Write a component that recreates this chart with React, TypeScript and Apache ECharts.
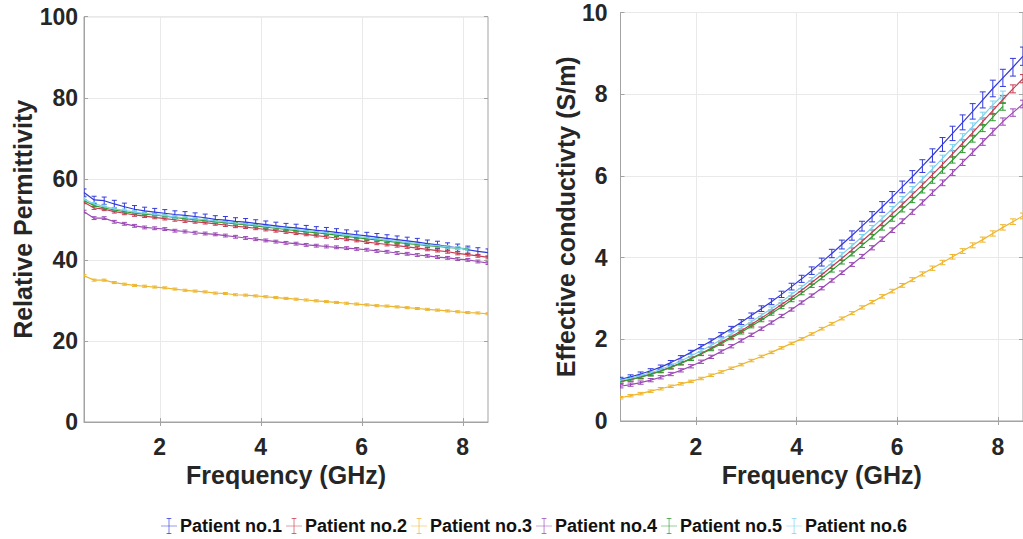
import React, { useEffect, useRef } from 'react';
import * as echarts from 'echarts';

const freq = [0.5, 0.7, 0.9, 1.1, 1.3, 1.5, 1.7, 1.9, 2.1, 2.3, 2.5, 2.7, 2.9, 3.1, 3.3, 3.5, 3.7, 3.9, 4.1, 4.3, 4.5, 4.7, 4.9, 5.1, 5.3, 5.5, 5.7, 5.9, 6.1, 6.3, 6.5, 6.7, 6.9, 7.1, 7.3, 7.5, 7.7, 7.9, 8.1, 8.3, 8.5];

const patients = ['Patient no.1', 'Patient no.2', 'Patient no.3', 'Patient no.4', 'Patient no.5', 'Patient no.6'];
const colors = ['#3239dc', '#c43c50', '#edb62e', '#9b4ab5', '#2f9c32', '#7cd2ee'];

const xTicks = [2, 4, 6, 8];

// Relative permittivity
const eps1 = [56.6, 54.8, 54.6, 53.8, 53.1, 52.5, 52.1, 51.8, 51.5, 51.2, 51.0, 50.7, 50.4, 50.0, 49.8, 49.5, 49.3, 49.0, 48.7, 48.4, 48.1, 47.9, 47.6, 47.3, 47.1, 46.8, 46.5, 46.2, 45.9, 45.6, 45.3, 45.0, 44.7, 44.4, 44.0, 43.7, 43.3, 43.0, 42.5, 42.1, 41.8];
const eps2 = [54.2, 52.8, 52.5, 51.9, 51.5, 51.1, 50.8, 50.5, 50.2, 49.9, 49.6, 49.4, 49.2, 48.9, 48.6, 48.3, 48.1, 47.8, 47.5, 47.2, 46.9, 46.6, 46.3, 46.0, 45.7, 45.4, 45.1, 44.8, 44.4, 44.1, 43.8, 43.5, 43.2, 42.9, 42.6, 42.3, 42.0, 41.6, 41.3, 41.0, 40.6];
const eps3 = [36.1, 35.0, 35.0, 34.4, 34.0, 33.7, 33.5, 33.3, 33.1, 32.8, 32.5, 32.3, 32.1, 31.8, 31.7, 31.4, 31.3, 31.1, 30.9, 30.7, 30.5, 30.3, 30.1, 29.9, 29.7, 29.5, 29.3, 29.1, 28.9, 28.7, 28.6, 28.4, 28.2, 28.0, 27.8, 27.6, 27.4, 27.2, 27.0, 26.9, 26.7];
const eps4 = [51.9, 50.3, 50.3, 49.4, 48.9, 48.4, 48.0, 47.8, 47.6, 47.2, 47.0, 46.7, 46.5, 46.3, 46.0, 45.7, 45.4, 45.1, 44.8, 44.5, 44.2, 44.0, 43.7, 43.5, 43.3, 43.1, 42.9, 42.7, 42.5, 42.2, 42.0, 41.7, 41.5, 41.2, 41.0, 40.7, 40.5, 40.2, 40.0, 39.6, 39.2];
const eps5 = [54.6, 53.4, 52.8, 52.3, 51.9, 51.5, 51.3, 51.1, 50.8, 50.5, 50.2, 49.9, 49.7, 49.4, 49.2, 48.9, 48.7, 48.4, 48.1, 47.8, 47.5, 47.2, 46.9, 46.7, 46.4, 46.1, 45.8, 45.5, 45.2, 44.9, 44.6, 44.3, 44.0, 43.8, 43.5, 43.3, 43.1, 42.9, 42.7];
const eps6 = [55.0, 53.8, 53.2, 52.6, 52.2, 51.8, 51.5, 51.2, 50.9, 50.6, 50.4, 50.1, 49.9, 49.6, 49.4, 49.1, 48.9, 48.6, 48.3, 48.0, 47.8, 47.5, 47.2, 47.0, 46.7, 46.4, 46.1, 45.8, 45.5, 45.2, 44.9, 44.6, 44.3, 44.0, 43.7, 43.5, 43.2, 42.9, 42.6];

// Effective conductivity (S/m)
const sig1 = [1.02, 1.08, 1.15, 1.23, 1.32, 1.43, 1.55, 1.68, 1.82, 1.96, 2.11, 2.26, 2.42, 2.58, 2.75, 2.92, 3.10, 3.29, 3.48, 3.68, 3.89, 4.10, 4.32, 4.54, 4.77, 5.00, 5.24, 5.48, 5.73, 5.98, 6.24, 6.50, 6.77, 7.04, 7.31, 7.58, 7.86, 8.14, 8.40, 8.66, 8.93];
const sig2 = [0.97, 1.02, 1.08, 1.15, 1.23, 1.32, 1.42, 1.53, 1.65, 1.78, 1.92, 2.06, 2.21, 2.36, 2.52, 2.68, 2.85, 3.02, 3.20, 3.39, 3.58, 3.78, 3.98, 4.19, 4.40, 4.62, 4.84, 5.07, 5.30, 5.54, 5.78, 6.03, 6.28, 6.54, 6.80, 7.06, 7.33, 7.60, 7.87, 8.13, 8.38];
const sig3 = [0.57, 0.62, 0.67, 0.73, 0.79, 0.85, 0.91, 0.97, 1.04, 1.12, 1.20, 1.29, 1.38, 1.48, 1.58, 1.68, 1.79, 1.90, 2.01, 2.13, 2.26, 2.38, 2.51, 2.64, 2.78, 2.91, 3.05, 3.18, 3.32, 3.46, 3.60, 3.74, 3.88, 4.02, 4.16, 4.30, 4.44, 4.59, 4.74, 4.88, 5.02];
const sig4 = [0.85, 0.89, 0.94, 1.00, 1.07, 1.15, 1.24, 1.34, 1.45, 1.57, 1.70, 1.83, 1.97, 2.11, 2.26, 2.41, 2.57, 2.73, 2.90, 3.07, 3.25, 3.44, 3.63, 3.83, 4.03, 4.24, 4.45, 4.67, 4.89, 5.12, 5.35, 5.59, 5.83, 6.08, 6.33, 6.58, 6.83, 7.08, 7.33, 7.55, 7.76];
const sig5 = [0.96, 1.01, 1.07, 1.14, 1.22, 1.31, 1.41, 1.52, 1.64, 1.76, 1.89, 2.03, 2.17, 2.32, 2.47, 2.63, 2.79, 2.96, 3.13, 3.31, 3.50, 3.69, 3.89, 4.09, 4.30, 4.51, 4.73, 4.95, 5.18, 5.41, 5.65, 5.89, 6.14, 6.39, 6.65, 6.91, 7.17, 7.44, 7.70];
const sig6 = [1.00, 1.05, 1.11, 1.18, 1.26, 1.36, 1.47, 1.59, 1.72, 1.85, 1.99, 2.13, 2.28, 2.43, 2.59, 2.75, 2.92, 3.10, 3.28, 3.47, 3.67, 3.87, 4.08, 4.29, 4.51, 4.73, 4.96, 5.19, 5.43, 5.67, 5.92, 6.17, 6.43, 6.69, 6.95, 7.21, 7.47, 7.74, 7.98];

// error bar half-widths
const epsErr = [0.9, 0.35, 0.25, 0.35, 0.3, 0.35];
const sigErrFrac = [0.025, 0.012, 0.014, 0.012, 0.012, 0.012];
const sigErrMin = [0.05, 0.04, 0.03, 0.04, 0.04, 0.04];

const epsAll = [eps1, eps2, eps3, eps4, eps5, eps6];
const sigAll = [sig1, sig2, sig3, sig4, sig5, sig6];

const FONT = "'Liberation Sans', Arial, Helvetica, sans-serif";
const TXT = '#262626';
const BOX = '#a3a3a3';
const GRIDC = '#e9e9e9';

const makeErrRender = (color: string, cap: number) => (params: any, api: any) => {
  const x = api.value(0);
  const y = api.value(1);
  const e = api.value(2);
  const hi = api.coord([x, y + e]);
  const lo = api.coord([x, y - e]);
  const style = { stroke: color, lineWidth: 1, fill: 'none' };
  return {
    type: 'group',
    children: [
      { type: 'line', shape: { x1: hi[0], y1: hi[1], x2: lo[0], y2: lo[1] }, style },
      { type: 'line', shape: { x1: hi[0] - cap, y1: hi[1], x2: hi[0] + cap, y2: hi[1] }, style },
      { type: 'line', shape: { x1: lo[0] - cap, y1: lo[1], x2: lo[0] + cap, y2: lo[1] }, style },
    ],
  };
};

const tickLabel = { color: TXT, fontSize: 23, fontWeight: 'bold', fontFamily: FONT };
const nameStyle = { color: TXT, fontSize: 25, fontWeight: 'bold', fontFamily: FONT };

function bottomX(gridIndex: number, margin: number, nameGap: number) {
  return {
    type: 'value',
    gridIndex,
    min: 0.5,
    max: 8.5,
    position: 'bottom',
    axisLine: { show: true, onZero: false, lineStyle: { color: BOX, width: 1 } },
    axisTick: { show: true, inside: true, length: 4, customValues: xTicks, lineStyle: { color: BOX } },
    axisLabel: { show: true, customValues: xTicks, margin, ...tickLabel },
    splitLine: { show: true, lineStyle: { color: GRIDC, width: 1 } },
    name: 'Frequency (GHz)',
    nameLocation: 'middle',
    nameGap,
    nameTextStyle: nameStyle,
  };
}
function topX(gridIndex: number) {
  return {
    type: 'value',
    gridIndex,
    min: 0.5,
    max: 8.5,
    position: 'top',
    axisLine: { show: false },
    axisTick: { show: true, inside: true, length: 4, customValues: xTicks, lineStyle: { color: BOX } },
    axisLabel: { show: false },
    splitLine: { show: false },
  };
}
function leftY(gridIndex: number, max: number, interval: number, margin: number, name: string, nameGap: number) {
  return {
    type: 'value',
    gridIndex,
    min: 0,
    max,
    interval,
    position: 'left',
    axisLine: { show: true, onZero: false, lineStyle: { color: BOX, width: 1 } },
    axisTick: { show: true, inside: true, length: 4, lineStyle: { color: BOX } },
    axisLabel: { show: true, margin, ...tickLabel },
    splitLine: { show: true, lineStyle: { color: GRIDC, width: 1 } },
    name,
    nameLocation: 'middle',
    nameGap,
    nameTextStyle: nameStyle,
  };
}
function rightY(gridIndex: number, max: number, interval: number) {
  return {
    type: 'value',
    gridIndex,
    min: 0,
    max,
    interval,
    position: 'right',
    axisLine: { show: false },
    axisTick: { show: true, inside: true, length: 4, lineStyle: { color: BOX } },
    axisLabel: { show: false },
    splitLine: { show: false },
  };
}

function buildSeries() {
  const series: any[] = [];
  const plots = [
    { all: epsAll, axis: 0, err: (i: number, v: number) => epsErr[i], cap: 2.5 },
    { all: sigAll, axis: 1, err: (i: number, v: number) => Math.max(sigErrMin[i], v * sigErrFrac[i]), cap: 3 },
  ];
  plots.forEach((p) => {
    p.all.forEach((vals, i) => {
      const pts = vals.map((v, j) => [freq[j], v]);
      const errPts = vals.map((v, j) => [freq[j], v, p.err(i, v)]);
      series.push({
        type: 'line',
        name: patients[i],
        xAxisIndex: p.axis,
        yAxisIndex: p.axis,
        data: pts,
        symbol: 'none',
        showSymbol: false,
        silent: true,
        lineStyle: { color: colors[i], width: 1.2 },
        itemStyle: { color: colors[i] },
        z: 3,
      });
      series.push({
        type: 'custom',
        name: patients[i],
        xAxisIndex: p.axis,
        yAxisIndex: p.axis,
        data: errPts,
        clip: true,
        silent: true,
        itemStyle: { color: colors[i] },
        renderItem: makeErrRender(colors[i], p.cap),
        z: 3,
      });
    });
  });
  return series;
}

export default function App() {
  const ref = useRef<HTMLDivElement>(null);
  useEffect(() => {
    if (!ref.current) return;
    const chart = echarts.init(ref.current, undefined, { renderer: 'svg' });
    const option: any = {
      animation: false,
      backgroundColor: '#ffffff',
      textStyle: { fontFamily: FONT },
      grid: [
        { left: 84, top: 16.7, width: 404, height: 405.3, show: true, borderColor: BOX, borderWidth: 1, backgroundColor: 'transparent' },
        { left: 620.5, top: 12.5, width: 406.5, height: 408.5, show: true, borderColor: BOX, borderWidth: 1, backgroundColor: 'transparent' },
      ],
      xAxis: [bottomX(0, 13, 39), bottomX(1, 14, 40), topX(0), topX(1)],
      yAxis: [
        leftY(0, 100, 20, 6, 'Relative Permittivity', 41),
        leftY(1, 10, 2, 13, 'Effective conductivty (S/m)', 40),
        rightY(0, 100, 20),
        rightY(1, 10, 2),
      ],
      legend: {
        data: patients,
        left: 156,
        top: 512,
        itemWidth: 18,
        itemHeight: 16,
        itemGap: 4,
        icon: 'path://M0,9.6H20V10.4H0Z M9.6,0H10.4V20H9.6Z M7,0H13V0.8H7Z M7,19.2H13V20H7Z',
        textStyle: { color: '#111111', fontSize: 18, fontWeight: 'bold', fontFamily: FONT, padding: [0, 0, 0, -3] },
        selectedMode: false,
      },
      series: buildSeries(),
    };
    chart.setOption(option);
    return () => {
      chart.dispose();
    };
  }, []);
  return (
    <div
      ref={ref}
      style={{ position: 'fixed', left: 0, top: 0, width: 1023, height: 539, background: '#fff' }}
    />
  );
}
